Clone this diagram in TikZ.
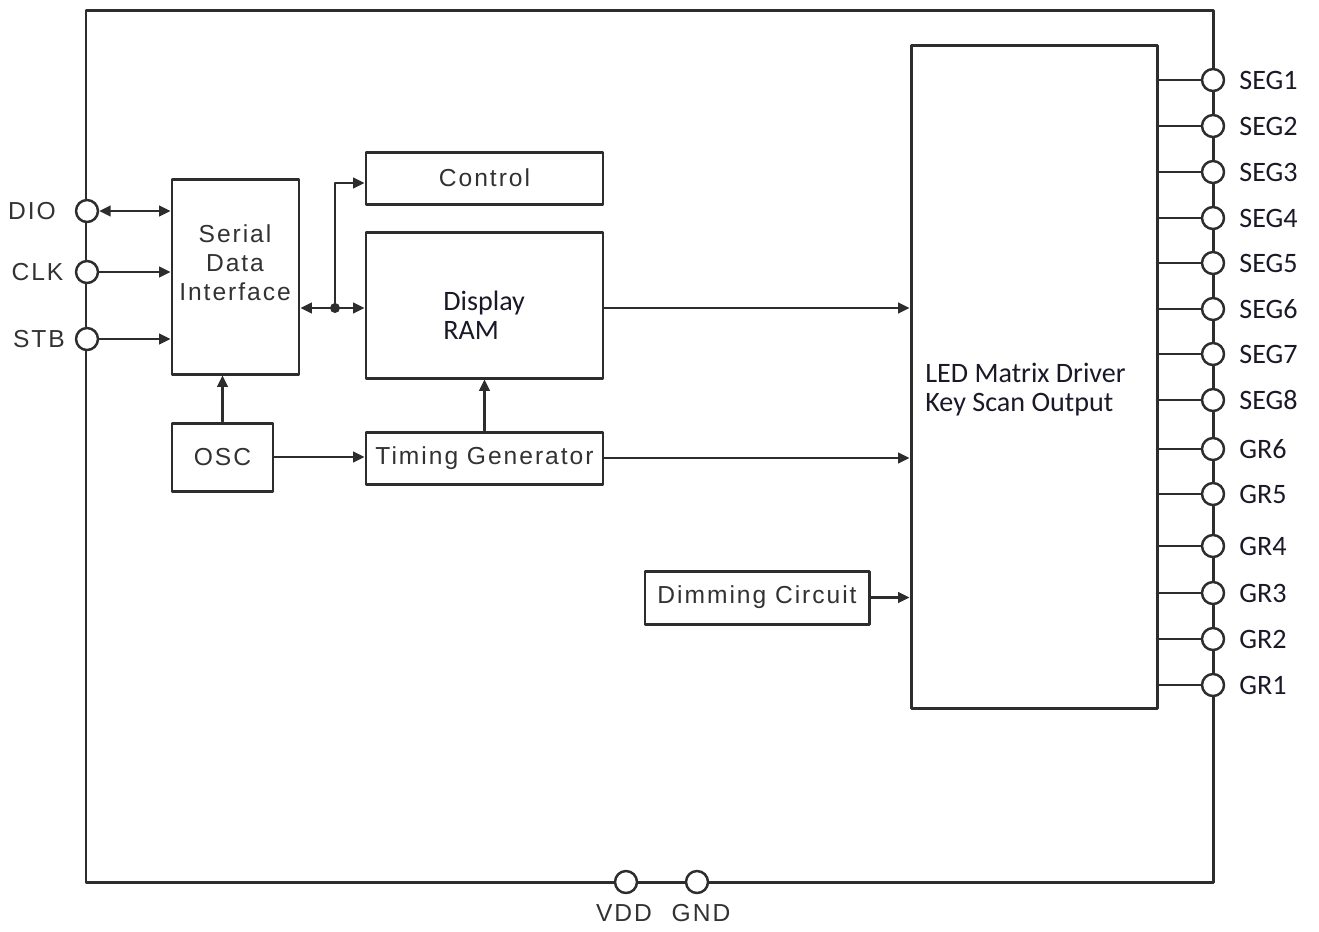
\documentclass[tikz,border=0pt]{standalone}
\usepackage{fontspec}
\setmainfont{Liberation Sans}[LetterSpace=8]
\newfontfamily\calfont{Carlito}
\usetikzlibrary{arrows.meta,positioning}

\definecolor{ink}{RGB}{45,45,45}
\definecolor{txt}{RGB}{50,50,50}
\definecolor{navy}{RGB}{25,25,40}

\tikzset{
  blk/.style={draw=ink, line width=1.7pt, inner sep=0pt},
  sz/.style 2 args={minimum width=#1*0.02cm, minimum height=#2*0.02cm},
  lbl/.style={text=txt, font=\fontsize{14}{16.5}\selectfont, align=center, inner sep=0pt},
  cal/.style={text=navy, font=\calfont\fontsize{16}{16.5}\selectfont, align=left, inner sep=0pt},
  pin/.style={circle, draw=ink, line width=1.4pt, fill=white, minimum size=0.44cm, inner sep=0pt},
  wire/.style={draw=ink, line width=1.5pt}
}

\begin{document}
\begin{tikzpicture}
    [>={Triangle[length=6.5pt,width=6pt]},
    x=0.02cm, y=-0.02cm,
    line cap=round,
    line join=round]

    \useasboundingbox (0,0) rectangle (1319,931);

    % Gehaeuse
    \draw[ink, line width=1.7pt] (86,10) rectangle (1213,882);

    % Bloecke
    \node[blk, sz={127}{195}] (sdi)  at (235.5,276.5) {};
    \node[lbl] (sditxt) at (235,263) {Serial\\Data\\Interface};
    \node[blk, sz={237}{52}, lbl] (ctrl) at (484.5,178) {Control};
    \node[blk, sz={237}{146}] (ram)  at (484.5,305) {};
    \node[cal, anchor=west] (ramtxt) at (443,315) {Display\\RAM};
    \node[blk, sz={101}{68}, lbl] (osc) at (222.5,457) {OSC};
    \node[blk, sz={237}{52}, lbl] (tim) at (484.5,458) {Timing Generator};
    \node[blk, sz={224}{53}, lbl] (dim) at (757,597.5) {Dimming Circuit};
    \node[blk, sz={246}{663}] (led)  at (1034,376.5) {};
    \node[cal, anchor=west] (ledtxt) at (925,390) {LED Matrix Driver\\Key Scan Output};

    % Eingaenge links
    \foreach \yy/\pn/\px in {211/DIO/32, 272/CLK/37.5, 339/STB/39} {
        \node[pin] (\pn) at (87,\yy) {};
        \node[lbl] at (\px,\yy) {\pn};
    }
    \draw[wire, <->] (DIO) -- (sdi.west |- DIO);
    \draw[wire, ->]  (CLK) -- (sdi.west |- CLK);
    \draw[wire, ->]  (STB) -- (sdi.west |- STB);

    % Bus
    \coordinate (jn) at (335,308);
    \coordinate (cj) at (335,183);
    \draw[wire, ->] (jn) -- (sdi.east |- jn);
    \draw[wire, ->] (jn) -- (ram.west |- jn);
    \draw[wire, ->] (jn) -- (cj) -- (ctrl.west |- cj);
    \fill[ink] (jn) circle (0.1cm);

    % Takt
    \draw[wire, ->] (osc.north) -- (osc.north |- sdi.south);
    \draw[wire, ->] (osc.east) -- (tim.west |- osc.east);
    \draw[wire, ->] (tim.north) -- (ram.south);

    % zum Treiber
    \draw[wire, ->] (ram.east |- jn) -- (led.west |- jn);
    \draw[wire, ->] (tim.east) -- (led.west |- tim.east);
    \draw[wire, ->] (dim.east) -- (led.west |- dim.east);

    % Ausgaenge rechts
    \foreach \yy/\pn in {80/SEG1, 126/SEG2, 172/SEG3, 218/SEG4, 263/SEG5,
                         309/SEG6, 354/SEG7, 400/SEG8, 449/GR6, 494/GR5,
                         546/GR4, 593/GR3, 639/GR2, 685/GR1} {
        \coordinate (e\pn) at (1157,\yy);
        \node[pin] (\pn) at (1213,\yy) {};
        \draw[wire] (e\pn) -- (\pn);
        \node[cal, anchor=west] at (1239,\yy) {\pn};
    }

    % Versorgung
    \node[pin] (VDD) at (626,882) {};
    \node[pin] (GND) at (697,882) {};
    \node[lbl] at (624,913) {VDD};
    \node[lbl] at (701,913) {GND};
\end{tikzpicture}
\end{document}
